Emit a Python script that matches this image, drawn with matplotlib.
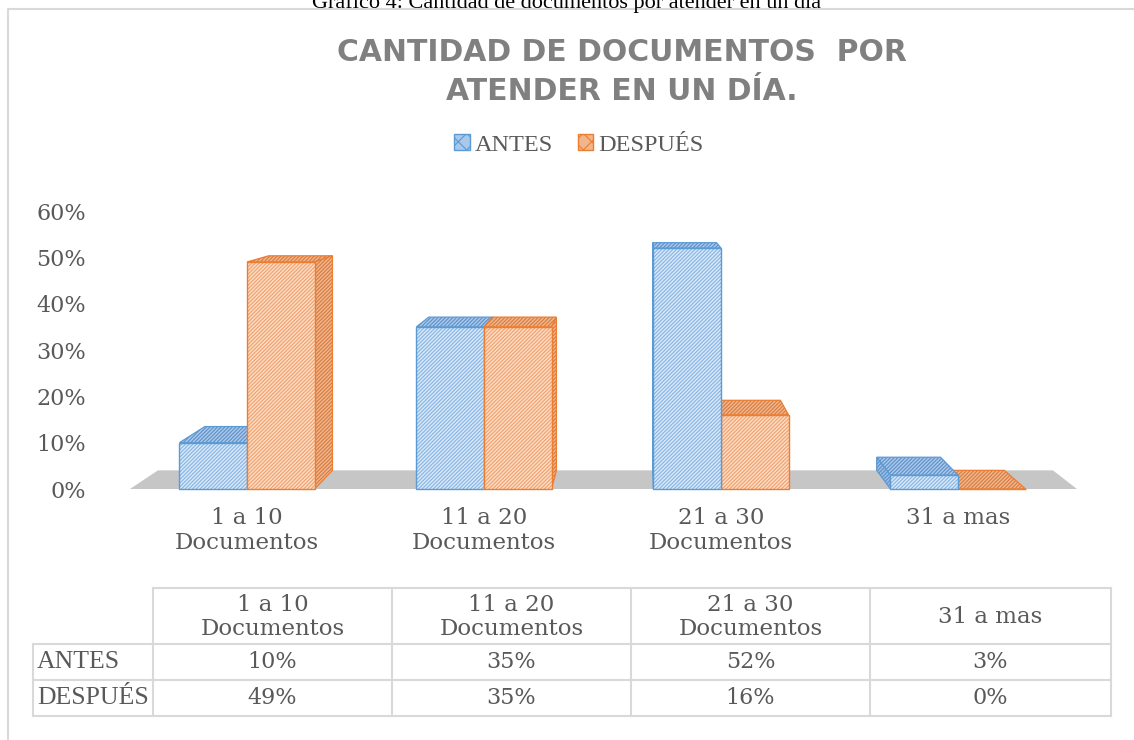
import numpy as np
import matplotlib
matplotlib.use('Agg')
import matplotlib.pyplot as plt
from matplotlib.patches import Polygon, Patch

# Data
categorias = ['1 a 10\nDocumentos', '11 a 20\nDocumentos', '21 a 30\nDocumentos', '31 a mas']
antes = [0.10, 0.35, 0.52, 0.03]
despues = [0.49, 0.35, 0.16, 0.00]
series = ['ANTES', 'DESPUÉS']
titulo = 'CANTIDAD DE DOCUMENTOS  POR\nATENDER EN UN DÍA.'
leyenda_sup = 'Gráfico 4: Cantidad de documentos por atender en un día'

W, H = 1134, 740
plt.rcParams['hatch.linewidth'] = 0.8
txt = '#595959'

fig = plt.figure(figsize=(W / 100, H / 100), dpi=100)

# overlay axes in pixel units for border, table and captions
ov = fig.add_axes([0, 0, 1, 1])
ov.set_xlim(0, W)
ov.set_ylim(H, 0)
ov.set_axis_off()

ax = fig.add_axes([100 / W, 1 - 489 / H, 977 / W, 278 / H])
x = np.arange(len(categorias))
w = 0.285
ax.set_xlim(-0.6203, 3.5021)
ax.set_ylim(0, 0.6)

# fake 3D: everything scaled toward a vanishing point
vx, vy, f = 1.658, 0.7317, 0.945


def back(px, py):
    return vx + f * (px - vx), vy + f * (py - vy)


fl, fr = -0.494, 3.5021
floor = [(fl, 0), (fr, 0), back(fr, 0), back(fl, 0)]
ax.add_patch(Polygon(floor, closed=True, facecolor='#c6c6c6', edgecolor='none',
                     zorder=1, clip_on=False))

estilos = {
    'ANTES': dict(face='#d8e8f8', hatch='#86b4e2', edge='#5b9bd5',
                  top='#a9c8ea', thatch='#5d8fc8', side='#9dbde2'),
    'DESPUÉS': dict(face='#fcdcc4', hatch='#f0a06c', edge='#ed7d31',
                    top='#f0b68c', thatch='#d77a3f', side='#f0b68c'),
}


def cara(pts, fc, hc, ec, z):
    ax.add_patch(Polygon(pts, closed=True, facecolor=fc, edgecolor='none',
                         zorder=z, clip_on=False))
    ax.add_patch(Polygon(pts, closed=True, facecolor='none', edgecolor=hc, lw=0,
                         hatch='/' * 9, zorder=z, clip_on=False))
    ax.add_patch(Polygon(pts, closed=True, facecolor='none', edgecolor=ec, lw=0.9,
                         zorder=z, clip_on=False))


for nombre, vals, off in [('ANTES', antes, -w / 2), ('DESPUÉS', despues, w / 2)]:
    st = estilos[nombre]
    for i, v in enumerate(vals):
        x0 = x[i] + off - w / 2
        x1 = x0 + w
        z = 2 + 10 / (1 + abs((x0 + x1) / 2 - vx))
        top = [(x0, v), (x1, v), back(x1, v), back(x0, v)]
        cara(top, st['top'], st['thatch'], st['edge'], z)
        xs = x1 if (x0 + x1) / 2 < vx else x0
        side = [(xs, 0), (xs, v), back(xs, v), back(xs, 0)]
        cara(side, st['side'], st['thatch'], st['edge'], z)
        ax.bar(x0, v, width=w, align='edge', color=st['face'], edgecolor='none',
               zorder=z + 0.1, clip_on=False)
        ax.bar(x0, v, width=w, align='edge', color='none', edgecolor=st['hatch'], lw=0,
               hatch='/' * 9, zorder=z + 0.1, clip_on=False)
        ax.bar(x0, v, width=w, align='edge', color='none', edgecolor=st['edge'], lw=1.0,
               zorder=z + 0.1, clip_on=False)

for s in ax.spines.values():
    s.set_visible(False)
ax.tick_params(length=0)
ax.set_yticks(np.arange(0, 0.61, 0.1))
ax.set_yticklabels([f'{t:.0%}' for t in np.arange(0, 0.61, 0.1)],
                   fontsize=16, color=txt, family='DejaVu Serif')
ax.tick_params(axis='y', pad=10)
ax.set_xticks(x)
ax.set_xticklabels(categorias, fontsize=16.5, color=txt, family='DejaVu Serif',
                   linespacing=1.15)
ax.tick_params(axis='x', pad=13)
ax.patch.set_visible(False)

hl = [Patch(facecolor=estilos[n]['top'], edgecolor=estilos[n]['edge'], hatch='xx', lw=1)
      for n in series]
fig.legend(hl, series, loc='center', bbox_to_anchor=(579 / W, 1 - 145 / H), ncol=2,
           frameon=False, handlelength=0.65, handleheight=0.65, handletextpad=0.2,
           columnspacing=1.0, prop={'family': 'Liberation Serif', 'size': 17.5},
           labelcolor=txt)

# chart border and captions
ov.plot([8, 8, W + 5], [H + 5, 9, 9], color='#d9d9d9', lw=1.5)
ov.text(567, 8, leyenda_sup, ha='center', va='baseline', fontsize=16,
        family='Liberation Serif', color='black')
ov.text(622, 72, titulo, ha='center', va='center', fontsize=21.5, fontweight='bold',
        color='#808080', family='DejaVu Sans', linespacing=1.45)

# data table under the chart
cols = [153, 392, 631, 870, 1111]
rows = [588, 644, 680, 716]
lc = '#d9d9d9'
ov.plot([153, 1111], [rows[0], rows[0]], color=lc, lw=1.5)
for r in rows[1:]:
    ov.plot([33, 1111], [r, r], color=lc, lw=1.5)
ov.plot([33, 33], [rows[1], rows[3]], color=lc, lw=1.5)
for c in cols:
    ov.plot([c, c], [rows[0], rows[3]], color=lc, lw=1.5)

for i, cat in enumerate(categorias):
    cx = (cols[i] + cols[i + 1]) / 2
    ov.text(cx, (rows[0] + rows[1]) / 2 + 1, cat, ha='center', va='center', fontsize=16.5,
            color=txt, family='DejaVu Serif', linespacing=1.1)
    ov.text(cx, (rows[1] + rows[2]) / 2, f'{antes[i]:.0%}', ha='center', va='center',
            fontsize=16, color=txt, family='DejaVu Serif')
    ov.text(cx, (rows[2] + rows[3]) / 2, f'{despues[i]:.0%}', ha='center', va='center',
            fontsize=16, color=txt, family='DejaVu Serif')

for j, nombre in enumerate(series):
    ov.text(37, (rows[j + 1] + rows[j + 2]) / 2, nombre, ha='left', va='center',
            fontsize=18.5, color=txt, family='Liberation Serif')

fig.savefig('out.png', dpi=100)
